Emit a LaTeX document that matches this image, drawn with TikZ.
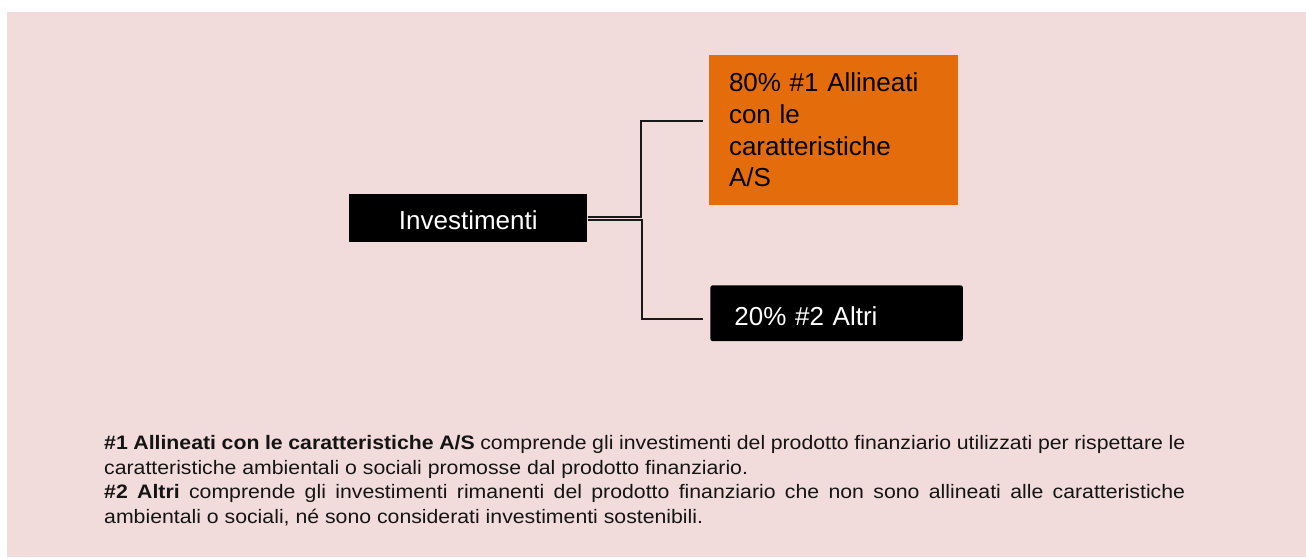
\documentclass[tikz,border=0pt]{standalone}
\usepackage{fontspec}
\setmainfont{Liberation Sans}
\newfontfamily\notefont[FakeStretch=1.09]{Liberation Sans}
\definecolor{bgpink}{HTML}{F2DCDB}
\definecolor{boxorange}{HTML}{E46C0A}
\definecolor{inkblack}{HTML}{000000}
\tikzset{
  blackbox/.style={fill=inkblack, text=white, inner sep=0pt, font=\fontsize{26}{31.7}\selectfont},
  orangebox/.style={fill=boxorange, text=black, inner ysep=0pt, font=\fontsize{26}{31.7}\selectfont},
  connector/.style={draw=black!90, line width=1.7pt},
  note/.style={text width=1081pt, align=justify, inner sep=0pt, text=black!92, font=\notefont\fontsize{19.5}{24.8}\selectfont}
}
\begin{document}
\begin{tikzpicture}[x=1pt,y=-1pt]
\useasboundingbox (0,0) rectangle (1306,557);
\fill[bgpink] (6.5,12) rectangle (1306,557);

\node[blackbox, minimum width=238pt, minimum height=48.5pt, text height=22.6pt, text depth=0pt] (inv) at (468.3,218) {Investimenti};
\node[orangebox, minimum width=249pt, minimum height=150pt, inner xsep=20pt, text width=209pt, align=left] (a1) at (833.5,130) {80\% \#1 Allineati\\con le\\caratteristiche\\A/S};
\node[blackbox, rounded corners=2pt, minimum width=252.3pt, minimum height=55.7pt, inner xsep=24pt, text width=204.3pt, align=left, text height=23.6pt, text depth=0pt] (a2) at (836.6,313.2) {20\% \#2 Altri};

\coordinate (e1) at (702.6,120.7);
\coordinate (e2) at (702.6,318.7);
\draw[connector] ([yshift=1.3pt]inv.east) -- ++(53.4,0) |- (e1);
\draw[connector] ([yshift=-2pt]inv.east) -- ++(54.8,0) |- (e2);

\node[note, anchor=base west] (n1) at (104,449.3) {\textbf{\#1 Allineati con le caratteristiche A/S} comprende gli investimenti del prodotto finanziario utilizzati per rispettare le\linebreak caratteristiche ambientali o sociali promosse dal prodotto finanziario.};
\node[note, anchor=base west] (n2) at (104,498.6) {\textbf{\#2 Altri} comprende gli investimenti rimanenti del prodotto finanziario che non sono allineati alle caratteristiche\linebreak ambientali o sociali, né sono considerati investimenti sostenibili.};
\end{tikzpicture}
\end{document}
